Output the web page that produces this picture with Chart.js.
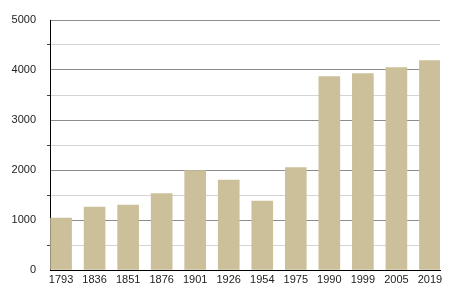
<!DOCTYPE html>
<html>
<head>
<meta charset="utf-8">
<script src="https://cdn.jsdelivr.net/npm/chart.js@4/dist/chart.umd.min.js"></script>
<style>
  html, body { margin: 0; padding: 0; background: #fff; }
  #wrap { width: 450px; height: 300px; }
</style>
</head>
<body>
<div id="wrap"><canvas id="chart"></canvas></div>
<script>
// population by census year
const years = ['1793', '1836', '1851', '1876', '1901', '1926', '1954', '1975', '1990', '1999', '2005', '2019'];
const population = [1040, 1260, 1300, 1530, 1990, 1800, 1380, 2050, 3870, 3930, 4050, 4190];
const yTicks = [0, 1000, 2000, 3000, 4000, 5000];

const points = population.map((v, i) => ({ x: i, y: v }));
const font = { family: '"Liberation Sans", Arial, sans-serif', size: 11 };

new Chart(document.getElementById('chart'), {
  type: 'bar',
  data: {
    datasets: [{
      data: points,
      backgroundColor: '#cbc09a',
      borderWidth: 0,
      barThickness: 21
    }]
  },
  options: {
    responsive: true,
    maintainAspectRatio: false,
    animation: false,
    layout: { padding: { top: 20, right: 10, bottom: 0, left: 0 } },
    plugins: {
      legend: { display: false },
      tooltip: { enabled: false }
    },
    scales: {
      x: {
        type: 'linear',
        offset: false,
        min: -0.33,
        max: 11.3,
        grid: { display: false, drawTicks: false },
        border: { display: true, color: '#000', width: 1 },
        ticks: {
          stepSize: 1,
          includeBounds: false,
          autoSkip: false,
          maxRotation: 0,
          padding: 3,
          color: '#222',
          font: font,
          callback: v => years[v] ?? ''
        },
        afterFit: scale => { scale.height = 30; }
      },
      y: {
        min: 0,
        max: 5000,
        grid: {
          color: c => c.tick && c.tick.value % 1000 === 0 ? '#8c8c8c' : '#d4d4d4',
          tickColor: c => c.tick && c.tick.value % 1000 === 0 ? 'rgba(0,0,0,0)' : '#444',
          tickLength: 3,
          drawTicks: true
        },
        border: { display: true, color: '#000', width: 1 },
        ticks: {
          stepSize: 500,
          padding: 11,
          color: '#222',
          font: font,
          callback: v => yTicks.includes(v) ? String(v) : ''
        },
        afterFit: scale => { scale.width = 50; }
      }
    }
  }
});
</script>
</body>
</html>
